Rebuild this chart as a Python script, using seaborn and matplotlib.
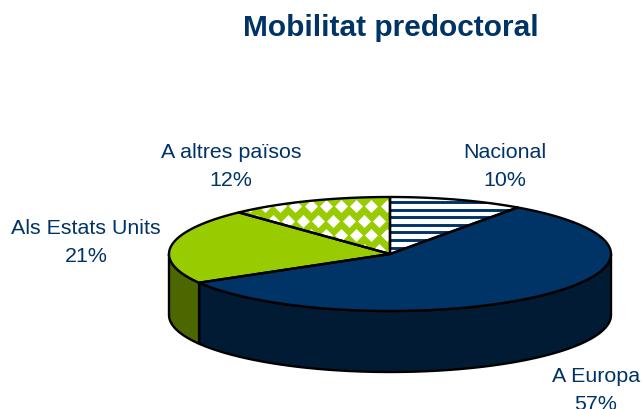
import numpy as np
import matplotlib
matplotlib.use("Agg")
import matplotlib.pyplot as plt
from matplotlib.patches import Polygon
import seaborn as sns

categories = ["Nacional", "A Europa", "Als Estats Units", "A altres països"]
shares = [9.8, 56.8, 21.4, 12.0]
title_text = "Mobilitat predoctoral"

sns.set_style("white")
plt.rcParams["font.family"] = ["Liberation Sans", "DejaVu Sans"]

NAVY = "#003366"
NAVY_SIDE = "#001B33"
GREEN = "#99CC00"
GREEN_SIDE = "#4C6600"

fig, ax = plt.subplots(figsize=(6.42, 4.09), dpi=100)
ax.set_position([0, 0, 1, 1])
ax.set_xlim(0, 642)
ax.set_ylim(409, 0)
ax.axis("off")

cx, cy, rx, ry, depth = 390, 254, 221, 57, 61


def rim(a0, a1, dy=0.0, n=160):
    t = np.radians(np.linspace(a0, a1, n))
    return np.column_stack([cx + rx * np.sin(t), cy - ry * np.cos(t) + dy])


edges = np.cumsum([0] + shares) / sum(shares) * 360
lw = 1.7

# Extruded front wall (visible part of the rim, 90 to 270 degrees)
side_fill = {1: NAVY_SIDE, 2: GREEN_SIDE}
for i, col in side_fill.items():
    a0, a1 = max(edges[i], 90), min(edges[i + 1], 270)
    pts = np.vstack([rim(a0, a1), rim(a0, a1, depth)[::-1]])
    ax.add_patch(Polygon(pts, closed=True, fc=col, ec="black", lw=lw, joinstyle="round", zorder=2))

# Top faces
faces = []
face_col = ["white", NAVY, GREEN, GREEN]
for i in range(4):
    pts = np.vstack([[cx, cy], rim(edges[i], edges[i + 1])])
    p = Polygon(pts, closed=True, fc=face_col[i], ec="none", zorder=3)
    ax.add_patch(p)
    faces.append(p)

# Patterns, clipped to their slices
for y in np.arange(cy - ry + 5, cy + 2, 7.6):
    ln, = ax.plot([cx, cx + rx], [y, y], color=NAVY, lw=2.1, solid_capstyle="butt", zorder=4)
    ln.set_clip_path(faces[0])

dx, row_h = 15.2, 14.5
gx, gy = [], []
for r, y in enumerate(np.arange(cy - ry + 9, cy + 8, row_h)):
    off = 0 if r % 2 == 0 else -dx / 2
    for x in np.arange(cx - 3.3 - 10 * dx, cx + dx, dx):
        gx.append(x + off)
        gy.append(y)
sc = ax.scatter(gx, gy, marker="D", s=44, c="white", linewidths=0, zorder=4)
sc.set_clip_path(faces[3])

# Outlines on top
for i in range(4):
    pts = np.vstack([[cx, cy], rim(edges[i], edges[i + 1])])
    ax.add_patch(Polygon(pts, closed=True, fc="none", ec="black", lw=lw, joinstyle="round", zorder=5))

ax.text(391, 28, title_text, ha="center", va="center", color=NAVY, fontsize=21.5, fontweight="bold")

label_xy = [(505, 167), (596, 391), (86, 242), (231, 167)]
for cat, val, (x, y) in zip(categories, shares, label_xy):
    ax.text(x, y, f"{cat}\n{val:.0f}%", ha="center", va="center", color=NAVY, fontsize=15.4, linespacing=1.6)

fig.savefig("out.png", dpi=100)
